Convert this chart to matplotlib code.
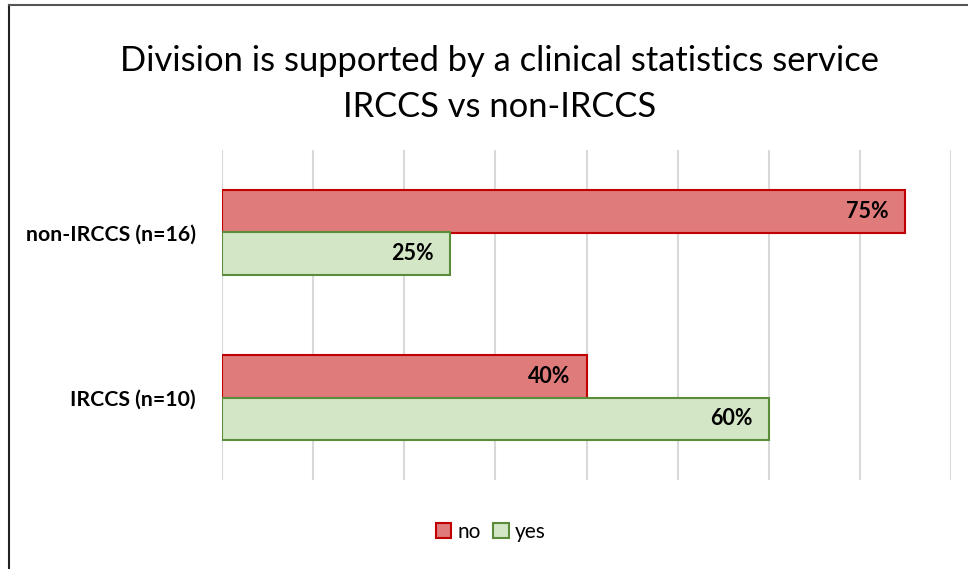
import numpy as np
import matplotlib
matplotlib.use("Agg")
from matplotlib import pyplot as plt
from matplotlib.patches import Patch
from matplotlib.lines import Line2D

plt.rcParams['font.family'] = ['Lato', 'DejaVu Sans']

# data
categories = ['IRCCS (n=10)', 'non-IRCCS (n=16)']
no_vals = [40, 75]
yes_vals = [60, 25]
series_names = ['no', 'yes']

red_fill, red_edge = '#E07B7B', '#C00000'
green_fill, green_edge = '#D3E6C6', '#5B8C3A'

fig = plt.figure(figsize=(9.68, 5.69), dpi=100)
ax = fig.add_axes([222 / 968, 1 - 480 / 569, 729 / 968, 330 / 569])

y = np.arange(len(categories))
h = 0.26
b_no = ax.barh(y + h / 2, no_vals, height=h, color=red_fill, edgecolor=red_edge, linewidth=1.5, zorder=3)
b_yes = ax.barh(y - h / 2, yes_vals, height=h, color=green_fill, edgecolor=green_edge, linewidth=1.5, zorder=3)

for bars, vals in [(b_no, no_vals), (b_yes, yes_vals)]:
    for rect, v in zip(bars, vals):
        ax.text(v - 1.8, rect.get_y() + rect.get_height() / 2, f'{v}%', ha='right', va='center',
                fontsize=15.5, fontweight='bold', color='black', zorder=4)

ax.set_xlim(0, 80)
ax.set_ylim(-0.5, 1.5)
ax.set_xticks(np.arange(0, 81, 10))
ax.xaxis.grid(True, color='#D9D9D9', linewidth=1.5, zorder=0)
ax.tick_params(axis='x', length=0, labelbottom=False)
ax.tick_params(axis='y', length=0, pad=19)
ax.set_yticks(y)
ax.set_yticklabels(categories, fontsize=15.3, fontweight='bold')
for s in ax.spines.values():
    s.set_visible(False)

fig.text(0.516, 1 - 61 / 569, 'Division is supported by a clinical statistics service', ha='center', va='center', fontsize=24.8)
fig.text(0.516, 1 - 107 / 569, 'IRCCS vs non-IRCCS', ha='center', va='center', fontsize=24.8)

handles = [Patch(facecolor=red_fill, edgecolor=red_edge, linewidth=1.5, label=series_names[0]),
           Patch(facecolor=green_fill, edgecolor=green_edge, linewidth=1.5, label=series_names[1])]
fig.legend(handles=handles, loc='center', bbox_to_anchor=(0.507, 1 - 532 / 569), ncol=2, frameon=False,
           fontsize=15, handlelength=0.75, handleheight=0.75, handletextpad=0.3, columnspacing=0.6)

# outer frame (left and top edges visible)
fig.add_artist(Line2D([9 / 968, 9 / 968], [0, 1 - 5 / 569], color='#222222', linewidth=1.5))
fig.add_artist(Line2D([9 / 968, 1], [1 - 5 / 569, 1 - 5 / 569], color='#555555', linewidth=1.5))

fig.savefig('out.png', dpi=100)
